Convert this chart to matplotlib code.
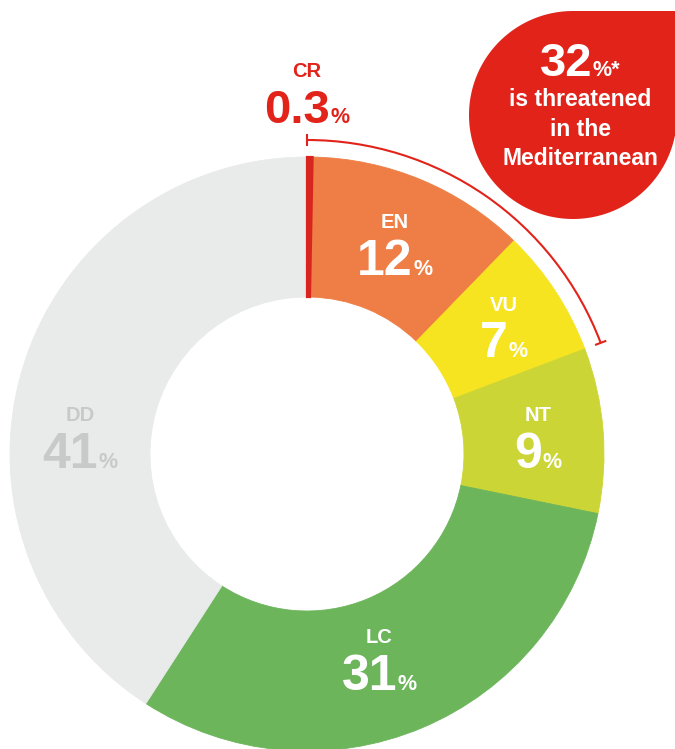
import matplotlib
matplotlib.use('Agg')
import matplotlib.pyplot as plt
import numpy as np
from matplotlib.patches import Polygon, Arc

# ---- data ----
categories = ['CR', 'EN', 'VU', 'NT', 'LC', 'DD']
values = [0.3, 12, 7, 9, 31, 41]
value_labels = ['0.3', '12', '7', '9', '31', '41']
threatened_categories = ['CR', 'EN', 'VU']
threatened_share = '32'
bubble_lines = ['is threatened', 'in the', 'Mediterranean']

# ---- style ----
colors = ['#D8261E', '#EE7E45', '#F6E420', '#CBD536', '#6CB55B', '#E9EAEA']
text_colors = ['#E2231A', 'white', 'white', 'white', 'white', '#C8C9C9']
RED = '#E2231A'
FONT = ['Liberation Sans', 'DejaVu Sans']

W, H = 675, 749
fig = plt.figure(figsize=(W / 100, H / 100), dpi=100)
ax = fig.add_axes([0, 0, 1, 1])

def py(y):  # pixel-from-top to data y
    return H - y

cx, cy = 307, py(454)
R, R_in = 297, 157

wedges, _ = ax.pie(values, colors=colors, startangle=90, counterclock=False,
                   radius=R, center=(cx, cy),
                   wedgeprops=dict(width=R - R_in, linewidth=0.6))
for w, c in zip(wedges, colors):
    w.set_edgecolor(c)
wedges[0].set_linewidth(1.6)
wedges[0].set_zorder(3)

ax.set_xlim(0, W)
ax.set_ylim(0, H)
ax.set_aspect('equal')
ax.axis('off')

# ---- bracket arc over threatened categories ----
total = sum(values)
thr = sum(v for c, v in zip(categories, values) if c in threatened_categories)
end_ang = 90 - 360 * thr / total
r_arc = 314
ax.add_patch(Arc((cx, cy), 2 * r_arc, 2 * r_arc, theta1=end_ang, theta2=90,
                 color=RED, lw=1.5, zorder=4))
for a in (90, end_ang):
    t = np.deg2rad(a)
    ax.plot([cx + (r_arc - 6) * np.cos(t), cx + (r_arc + 6) * np.cos(t)],
            [cy + (r_arc - 6) * np.sin(t), cy + (r_arc + 6) * np.sin(t)],
            color=RED, lw=1.5, solid_capstyle='butt', zorder=4)

# ---- bubble ----
bx, by, br = 573, py(115), 104
th = np.deg2rad(np.linspace(90, 360, 200))
pts = np.column_stack([bx + br * np.cos(th), by + br * np.sin(th)])
pts = np.vstack([pts, [bx + br, by + br]])
ax.add_patch(Polygon(pts, closed=True, facecolor=RED, edgecolor='none', zorder=5))

renderer = fig.canvas.get_renderer()

def num_pct(xc, yb, num, color, numsize=36, pctsize=15.5, pct='%', gap=0.5, z=6):
    t1 = ax.text(0, yb, num, fontsize=numsize, fontweight='bold', color=color,
                 ha='left', va='baseline', family=FONT, zorder=z)
    t2 = ax.text(0, yb, pct, fontsize=pctsize, fontweight='bold', color=color,
                 ha='left', va='baseline', family=FONT, zorder=z)
    w1 = t1.get_window_extent(renderer).width
    w2 = t2.get_window_extent(renderer).width
    x0 = xc - (w1 + gap + w2) / 2
    t1.set_x(x0)
    t2.set_x(x0 + w1 + gap)

# label layout: (center x, label baseline, number baseline) in pixels from top
layout = [(307, 77, 123), (395, 228, 275), (504, 311, 357),
          (538, 421, 468), (379, 643, 690), (80, 421, 468)]
num_sizes = [34, 36, 36, 36, 36, 36]

for cat, vl, tc, (xc, yl, yn), ns in zip(categories, value_labels, text_colors,
                                         layout, num_sizes):
    ax.text(xc, py(yl), cat, fontsize=14.5, fontweight='bold', color=tc,
            ha='center', va='baseline', family=FONT, zorder=6)
    num_pct(xc, py(yn), vl, tc, numsize=ns)

# bubble text
num_pct(580, py(76), threatened_share, 'white', numsize=34, pctsize=15.5, pct='%*')
for line, yb in zip(bubble_lines, [106, 136, 165]):
    ax.text(580, py(yb), line, fontsize=16.5, fontweight='bold', color='white',
            ha='center', va='baseline', family=FONT, zorder=6)

fig.savefig('out.png', dpi=100)
